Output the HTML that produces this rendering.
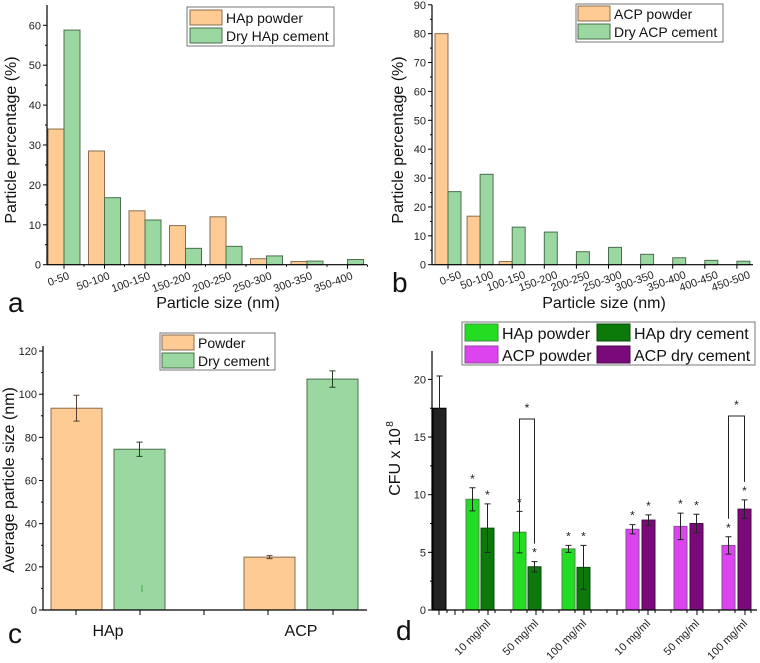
<!DOCTYPE html>
<html><head><meta charset="utf-8"><style>
body{margin:0;background:#fff}
svg{display:block;font-family:"Liberation Sans",Arial,sans-serif}
</style></head><body>
<svg id="fig" width="760" height="663" viewBox="0 0 760 663"></svg>
<script>
// Panel a data
const aCats=["0-50","50-100","100-150","150-200","200-250","250-300","300-350","350-400"];
const aPowder=[34,28.5,13.5,9.8,12,1.5,0.8,0];
const aCement=[58.8,16.8,11.2,4.1,4.6,2.2,0.9,1.3];
const aTicks=[0,10,20,30,40,50,60];
// Panel b data
const bCats=["0-50","50-100","100-150","150-200","200-250","250-300","300-350","350-400","400-450","450-500"];
const bPowder=[80,16.8,1.1,0,0,0,0,0,0,0];
const bCement=[25.3,31.3,13,11.3,4.5,6,3.6,2.4,1.5,1.2];
const bTicks=[0,10,20,30,40,50,60,70,80,90];
// Panel c data
const cCats=["HAp","ACP"];
const cPowder=[93.5,24.5];
const cPowderErr=[6,0.7];
const cCement=[74.5,107];
const cCementErr=[3.3,3.8];
const cTicks=[0,20,40,60,80,100,120];
// Panel d data
const dControl=[17.5];
const dControlErr=[2.8];
const dConc=["10 mg/ml","50 mg/ml","100 mg/ml"];
const dHApPowder=[9.6,6.75,5.3];
const dHApPowderErr=[1.0,1.8,0.3];
const dHApCement=[7.1,3.75,3.7];
const dHApCementErr=[2.1,0.45,1.9];
const dACPPowder=[7.0,7.25,5.6];
const dACPPowderErr=[0.4,1.15,0.75];
const dACPCement=[7.8,7.5,8.75];
const dACPCementErr=[0.45,0.8,0.8];
const dTicks=[0,5,10,15,20];

const svg=document.getElementById('fig');
const NS='http://www.w3.org/2000/svg';
function mk(tag,attrs,parent){const e=document.createElementNS(NS,tag);for(const k in attrs)e.setAttribute(k,attrs[k]);(parent||svg).appendChild(e);return e;}
function txt(s,attrs,parent){const e=mk('text',attrs,parent);e.textContent=s;return e;}
const OR='#FDCB93',ORS='#8a6e50',GR='#9BD7A0',GRS='#4c6e50';

function axes(g,x0,x1,y0,ytop,ys,ticks){
  let l=mk('line',{x1:x0,y1:y0,x2:x0,y2:ytop,stroke:'#000','stroke-width':1.2},g);
  
  
  l=mk('line',{x1:x0,y1:y0,x2:x1,y2:y0,stroke:'#000','stroke-width':1.2},g);
  
  
  ticks.forEach((t,i)=>{const y=ys(t);
    mk('line',{x1:x0-4,y1:y,x2:x0,y2:y,stroke:'#000'},g);
    const tl=txt(String(t),{x:x0-6,y:y+4,'font-size':11,'text-anchor':'end',fill:'#222'},g);
    
    
    if(i<ticks.length-1){const ym=ys((t+ticks[i+1])/2);mk('line',{x1:x0-2,y1:ym,x2:x0,y2:ym,stroke:'#000'},g);}
  });
}
function bar(g,x,w,y0,y1,fill,stroke,name){
  const r=mk('rect',{x:x,y:Math.min(y0,y1),width:w,height:Math.abs(y0-y1),fill:fill,stroke:stroke,'stroke-width':1},g);
  
  
  return r;
}
function err(g,cx,ya,yb,col){
  const e=mk('path',{d:`M${cx},${ya}V${yb}M${cx-3},${ya}H${cx+3}M${cx-3},${yb}H${cx+3}`,stroke:col||'#222',fill:'none','stroke-width':1},g);
  
  
}
function legend(g,x,y,w,h,items,sw,fs){
  const b=mk('rect',{x:x,y:y,width:w,height:h,fill:'#fff',stroke:'#777'},g);
  
  
  items.forEach(it=>{
    const s=mk('rect',{x:it[0],y:it[1],width:sw[0],height:sw[1],fill:it[3],stroke:it[4]},g);
    
    
    const t=txt(it[2],{x:it[0]+sw[0]+4,y:it[1]+sw[1]-2,'font-size':fs,fill:'#111'},g);
    
    
  });
}
function ytitle(g,s,x,y,fs){const t=txt(s,{x:x,y:y,'font-size':fs,'text-anchor':'middle',transform:`rotate(-90 ${x} ${y})`,fill:'#111'},g);
  
  }
function letter(g,s,x,y){const t=txt(s,{x:x,y:y,'font-size':28,fill:'#111'},g);
  
  }

// ---------- Panel a
(function(){
  const g=mk('g',{});
  
  
  const y0=264.7,k=3.99,ys=v=>y0-v*k;
  const cx=i=>64+40.5*i,w=16;
  aCats.forEach((c,i)=>{
    if(aPowder[i]>0)bar(g,cx(i)-w,w,y0,ys(aPowder[i]),OR,ORS,'bar-hap-powder');
    bar(g,cx(i),w,y0,ys(aCement[i]),GR,GRS,'bar-hap-cement');
    mk('line',{x1:cx(i),y1:y0,x2:cx(i),y2:y0+4,stroke:'#000'},g);
    mk('line',{x1:cx(i)+20,y1:y0,x2:cx(i)+20,y2:y0+2,stroke:'#000'},g);
    const t=txt(c,{x:cx(i)+6,y:y0+14,'font-size':11,'text-anchor':'end',transform:`rotate(-20 ${cx(i)+6} ${y0+14})`,fill:'#222'},g);
    
    
  });
  axes(g,47,367,y0,5,ys,aTicks);
  legend(g,187,7,147,39,[[190,10,'HAp powder',OR,ORS],[190,28,'Dry HAp cement',GR,GRS]],[32,15],14);
  ytitle(g,'Particle percentage (%)',16,140,16);
  const xt=txt('Particle size (nm)',{x:218,y:308,'font-size':16,'text-anchor':'middle',fill:'#111'},g);
  
  
  letter(g,'a',8,312);
})();

// ---------- Panel b
(function(){
  const g=mk('g',{});
  
  
  const y0=264.7,k=2.888,ys=v=>y0-v*k;
  const cx=i=>448+32.1*i,w=13;
  bCats.forEach((c,i)=>{
    if(bPowder[i]>0)bar(g,cx(i)-w,w,y0,ys(bPowder[i]),OR,ORS,'bar-acp-powder');
    bar(g,cx(i),w,y0,ys(bCement[i]),GR,GRS,'bar-acp-cement');
    mk('line',{x1:cx(i),y1:y0,x2:cx(i),y2:y0+4,stroke:'#000'},g);
    const t=txt(c,{x:cx(i)+14,y:y0+13,'font-size':11,'text-anchor':'end',transform:`rotate(-20 ${cx(i)+14} ${y0+13})`,fill:'#222'},g);
    
    
  });
  axes(g,432,753,y0,5,ys,bTicks);
  legend(g,576,4,147,38,[[578,6,'ACP powder',OR,ORS],[578,24,'Dry ACP cement',GR,GRS]],[32,15],14);
  ytitle(g,'Particle percentage (%)',403,140,16);
  const xt=txt('Particle size (nm)',{x:604,y:308,'font-size':16,'text-anchor':'middle',fill:'#111'},g);
  
  
  letter(g,'b',392,292);
})();

// ---------- Panel c
(function(){
  const g=mk('g',{});
  
  
  const y0=610,k=2.158,ys=v=>y0-v*k;
  const cen=[108,301],w=51;
  cCats.forEach((c,i)=>{
    bar(g,cen[i]-57,w,y0,ys(cPowder[i]),OR,ORS,'bar-powder');
    err(g,cen[i]-31.5,ys(cPowder[i]+cPowderErr[i]),ys(cPowder[i]-cPowderErr[i]),'#5a4030');
    bar(g,cen[i]+6,w,y0,ys(cCement[i]),GR,GRS,'bar-dry-cement');
    err(g,cen[i]+31.5,ys(cCement[i]+cCementErr[i]),ys(cCement[i]-cCementErr[i]),'#204020');
    const t=txt(c,{x:cen[i],y:636,'font-size':16,'text-anchor':'middle',fill:'#111'},g);
    
    
  });
  [76,140,204,268,333].forEach(x=>mk('line',{x1:x,y1:y0,x2:x,y2:y0+5,stroke:'#000'},g));
  mk('line',{x1:142,y1:585,x2:142,y2:592,stroke:'#4a4','stroke-width':1},g);
  axes(g,43,367,y0,346,ys,cTicks);
  legend(g,160,333,115,37,[[162,335,'Powder',OR,ORS],[162,353,'Dry cement',GR,GRS]],[32,15],14);
  ytitle(g,'Average particle size (nm)',14,480,16);
  letter(g,'c',8,643);
})();

// ---------- Panel d
(function(){
  const g=mk('g',{});
  
  
  const y0=610,k=11.53,ys=v=>y0-v*k;
  const w=13;
  const LG='#22DD22',LGS='#4a8a4a',DG='#0B7A0B',DGS='#0a4a0a',MG='#DD44F0',MGS='#8a4a9a',PU='#7A0A7A',PUS='#4a0a4a';
  function star(x,y){const s=txt('*',{x:x,y:y,'font-size':12,'text-anchor':'middle',fill:'#222'},g);
    
    }
  bar(g,433,13,y0,ys(dControl[0]),'#222','#000','bar-control');
  err(g,439.5,ys(dControl[0]+dControlErr[0]),ys(dControl[0]-dControlErr[0]));
  const hx=[466,513,562],ax=[626,674,722];
  function series(xs,vals,errs,off,fill,stroke,name){
    vals.forEach((v,i)=>{const x=xs[i]+off;
      bar(g,x,w,y0,ys(v),fill,stroke,name);
      err(g,x+w/2,ys(v+errs[i]),ys(v-errs[i]));
      star(x+w/2,ys(v+errs[i])-5);
    });
  }
  series(hx,dHApPowder,dHApPowderErr,0,LG,LGS,'bar-hap-powder');
  series(hx,dHApCement,dHApCementErr,15,DG,DGS,'bar-hap-cement');
  series(ax,dACPPowder,dACPPowderErr,0,MG,MGS,'bar-acp-powder');
  series(ax,dACPCement,dACPCementErr,16,PU,PUS,'bar-acp-cement');
  // brackets
  let bk=mk('path',{d:`M${hx[1]+6.5},${ys(dHApPowder[1]+dHApPowderErr[1])+10}V419H${hx[1]+21.5}V${ys(dHApCement[1]+dHApCementErr[1])-18}`,fill:'none',stroke:'#222'},g);
  
  
  star(hx[1]+14,412);
  bk=mk('path',{d:`M${ax[2]+6.5},${ys(dACPPowder[2]+dACPPowderErr[2])-18}V416H${ax[2]+22.5}V${ys(dACPCement[2]+dACPCementErr[2])-18}`,fill:'none',stroke:'#222'},g);
  
  
  star(ax[2]+14.5,409);
  // x ticks
  [439,455,488,536,584,617,648,697,745].forEach(x=>mk('line',{x1:x,y1:y0,x2:x,y2:y0+5,stroke:'#000'},g));
  for(let x=447;x<757;x+=16)mk('line',{x1:x,y1:y0,x2:x,y2:y0+3,stroke:'#000'},g);
  const labX=[488,536,584,648,697,745];
  [...dConc,...dConc].forEach((c,i)=>{
    const x=labX[i]+3,y=624;
    const t=txt(c,{x:x,y:y,'font-size':11,'text-anchor':'end',transform:`rotate(-45 ${x} ${y})`,fill:'#222'},g);
    
    
  });
  axes(g,432,757,y0,351,ys,dTicks);
  legend(g,462,322,293,43,[[465,324,'HAp powder',LG,LGS],[597,324,'HAp dry cement',DG,DGS],[465,346,'ACP powder',MG,MGS],[597,346,'ACP dry cement',PU,PUS]],[33,17],16);
  const yt=txt('CFU x 10',{x:400,y:462,'font-size':16,'text-anchor':'middle',transform:'rotate(-90 400 462)',fill:'#111'},g);
  
  
  const sup=txt('8',{x:393,y:424,'font-size':10,'text-anchor':'middle',transform:'rotate(-90 393 424)',fill:'#111'},g);
  
  
  letter(g,'d',396,640);
})();
</script>
</body></html>
